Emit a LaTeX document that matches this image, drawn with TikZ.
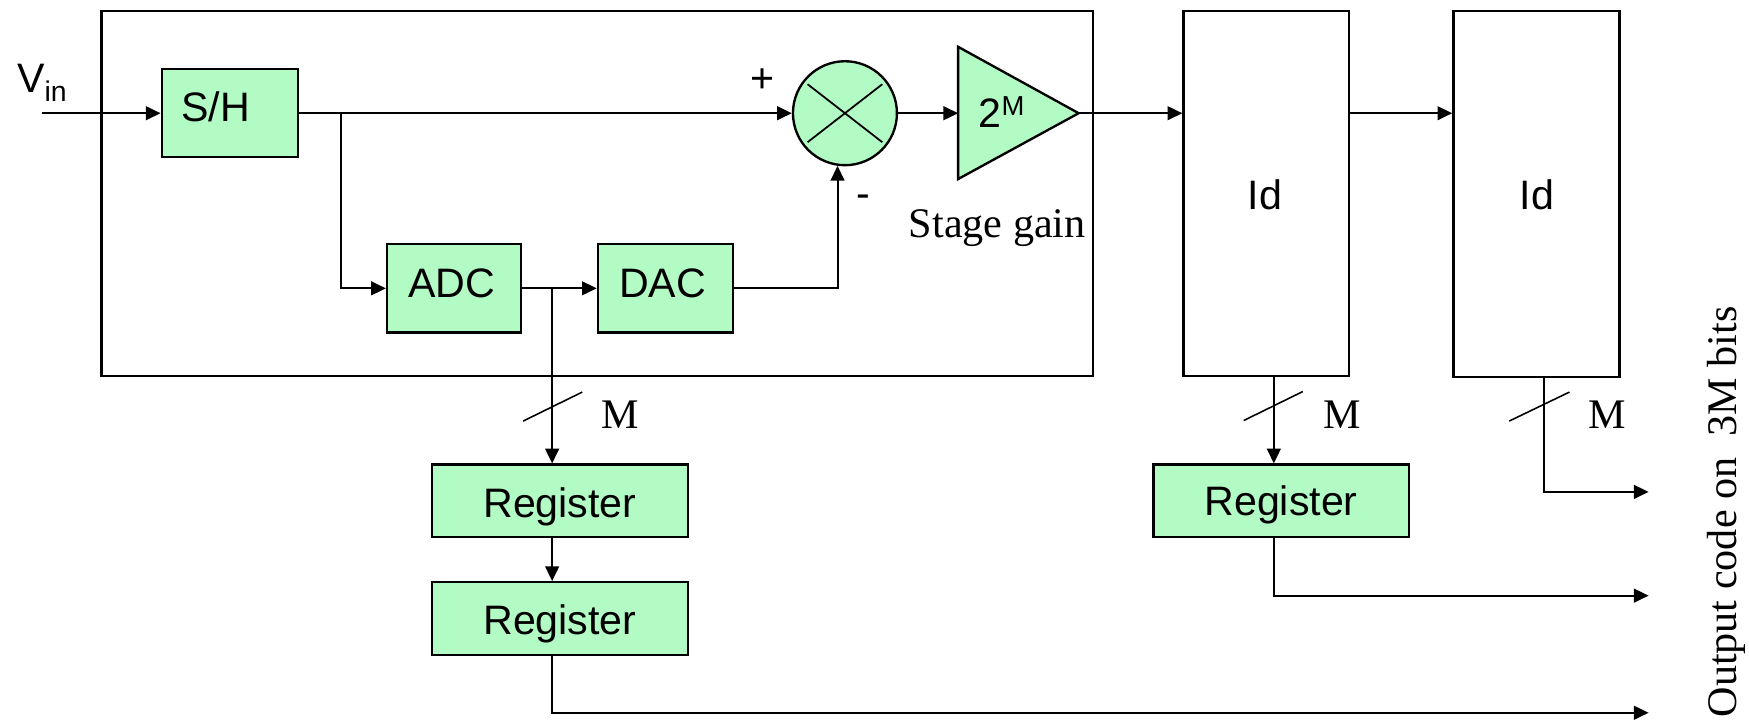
\documentclass[tikz,border=0pt]{standalone}
\usepackage{fontspec}
\setmainfont{Liberation Serif}
\setsansfont{Liberation Sans}
\usetikzlibrary{arrows.meta}
\definecolor{boxgreen}{RGB}{179,251,196}
\begin{document}
\begin{tikzpicture}[x=0.02cm,y=-0.02cm,
  blk/.style 2 args={draw=black,line width=1.2pt,fill=boxgreen,inner sep=0pt,
    minimum width={#1*0.02cm},minimum height={#2*0.02cm}},
  idbox/.style 2 args={draw=black,line width=1.2pt,fill=white,inner sep=0pt,
    minimum width={#1*0.02cm},minimum height={#2*0.02cm}},
  sanslbl/.style={font=\sffamily\fontsize{21}{25}\selectfont,inner sep=0pt},
  seriflbl/.style={font=\rmfamily\fontsize{21.5}{25}\selectfont,inner sep=0pt},
  arr/.style={line width=1pt,-{Triangle[length=7.5pt,width=7pt]}},
  wire/.style={line width=1pt},
  slash/.style={line width=0.8pt}]
\useasboundingbox (0,0) rectangle (1568,645);

% outer stage frame
\node[draw=black,line width=1.2pt,inner sep=0pt,minimum width={889*0.02cm},minimum height={327*0.02cm}] (stage) at (535.5,173.5) {};

% blocks
\node[blk={122}{79}] (sh) at (206,101.5) {};
\node[blk={120}{79}] (adc) at (407,258.5) {};
\node[blk={121}{79}] (dac) at (596.5,258.5) {};
\node[blk={230}{65}] (reg1) at (502,449) {};
\node[blk={230}{65}] (reg2) at (502,554.5) {};
\node[blk={229}{65}] (reg3) at (1148.5,449) {};
\node[idbox={148.5}{327}] (id1) at (1135.25,173.5) {};
\node[idbox={149}{328}] (id2) at (1377.5,174) {};

% summing node
\node[circle,draw=black,line width=1.2pt,fill=boxgreen,inner sep=0pt,minimum size={93.2*0.02cm}] (sum) at (757.5,101.5) {};
\draw[line width=0.9pt] (724,75.5) -- (791,127.5) (724,127.5) -- (791,75.5);

% amplifier
\coordinate (ampin) at (859,101.5);
\coordinate (ampout) at (967,101.5);
\draw[line width=1.2pt,fill=boxgreen,line join=miter] (859,42) -- (ampout) -- (859,160.5) -- cycle;

% texts
\node[sanslbl,anchor=base] (tsh) at (193.5,109) {S/H};
\node[sanslbl,anchor=base] (tadc) at (405,267) {ADC};
\node[sanslbl,anchor=base] (tdac) at (594,267) {DAC};
\node[sanslbl,anchor=base] (treg1) at (502,463.5) {Register};
\node[sanslbl,anchor=base] (treg2) at (502,568.5) {Register};
\node[sanslbl,anchor=base] (treg3) at (1148.5,462.5) {Register};
\node[sanslbl,anchor=base] (tid1) at (1134,187.5) {Id};
\node[sanslbl,anchor=base] (tid2) at (1378,187.5) {Id};
\node[sanslbl,anchor=base west] (tgain) at (877,114) {2\raisebox{0.55ex}{\fontsize{14}{14}\selectfont M}};
\node[sanslbl,anchor=base west] (vin) at (15,82.5) {V\raisebox{-0.45ex}{\fontsize{14.5}{14}\selectfont in}};
\node[sanslbl] (plus) at (684,72) {+};
\node[sanslbl] (minus) at (774,180) {-};
\node[seriflbl,anchor=base] (stagegain) at (894,212.5) {Stage gain};
\node[seriflbl,anchor=base] (m1) at (556,384) {M};
\node[seriflbl,anchor=base] (m2) at (1203,384) {M};
\node[seriflbl,anchor=base] (m3) at (1440.5,384) {M};
\node[seriflbl,rotate=90,anchor=base] (outtxt) at (1557,459) {Output code on\ \ 3M bits};

% connectors
\coordinate (vinstart) at (38,101.5);
\coordinate (b1) at (306,101.5);
\coordinate (b2) at (495,258.5);
\coordinate (c1) at (1142,0);
\coordinate (c2) at (1384,0);
\coordinate (out1) at (1478,441);
\coordinate (out2) at (1478,534);
\coordinate (out3) at (1478,639);

\draw[arr] (vinstart) -- (sh.west);
\draw[arr] (sh.east) -- (sum.west);
\draw[arr] (b1) |- (adc.west);
\draw[arr] (adc.east) -- (dac.west);
\draw[arr] (b2) -- (b2 |- reg1.north);
\draw[arr] (dac.east) -| (sum.262);
\draw[arr] (sum.east) -- (ampin);
\draw[arr] (ampout) -- (ampout -| id1.west);
\draw[arr] (id1.east |- ampout) -- (id2.west |- ampout);
\draw[arr] (c1 |- id1.south) -- (c1 |- reg3.north);
\draw[arr] (c1 |- reg3.south) |- (out2);
\draw[arr] (c2 |- id2.south) |- (out1);
\draw[arr] (b2 |- reg1.south) -- (b2 |- reg2.north);
\draw[arr] (b2 |- reg2.south) |- (out3);

% bus slashes
\draw[slash] (469,377.5) -- (522,351.5);
\draw[slash] (1115,377) -- (1168,351);
\draw[slash] (1353,377.5) -- (1407,351.5);
\end{tikzpicture}
\end{document}
